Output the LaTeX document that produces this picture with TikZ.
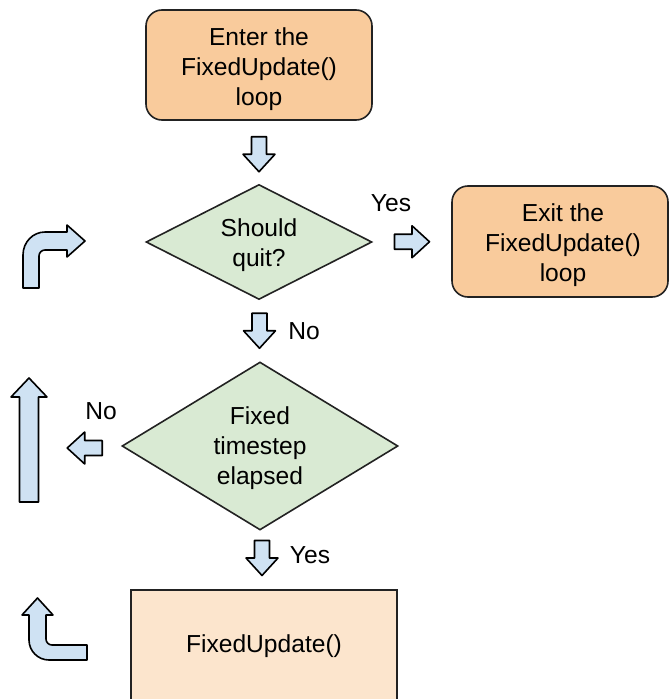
\documentclass[tikz,border=0pt]{standalone}
\usepackage{fontspec}
\setmainfont{Liberation Sans}
\usetikzlibrary{shapes.geometric,calc}
\definecolor{startfill}{HTML}{F9CB9C}
\definecolor{decfill}{HTML}{D9EAD3}
\definecolor{procfill}{HTML}{FCE5CD}
\definecolor{arrowfill}{HTML}{CFE2F3}
\definecolor{edge}{HTML}{222222}
\tikzset{
  blockarrow/.style={draw=black, line width=1.6pt, fill=arrowfill, line join=round},
  fatarrow/.pic={\path[blockarrow] (-17.5,-7.5) -- (0,-7.5) -- (0,-16) -- (17.5,0)
      -- (0,16) -- (0,7.5) -- (-17.5,7.5) -- cycle;},
}
\begin{document}
\begin{tikzpicture}[x=1pt,y=-1pt, font=\fontsize{24.6}{30}\selectfont,
  terminal/.style={draw=edge, line width=1.6pt, fill=startfill, rounded corners=16pt,
    inner sep=0pt},
  decision/.style={diamond, draw=edge, line width=1.6pt, fill=decfill, inner sep=0pt},
  process/.style={draw=edge, line width=1.6pt, fill=procfill, inner sep=0pt},
  lbl/.style={inner sep=0pt, align=center}
]
\useasboundingbox (0,0) rectangle (669,699);

% flowchart boxes
\node[terminal, minimum width=226pt, minimum height=110pt] (enter) at (259,65) {};
\node[decision, minimum width=226pt, minimum height=115pt] (quit) at (259,242) {};
\node[terminal, minimum width=216pt, minimum height=111pt] (exitb) at (560,241.5) {};
\node[decision, minimum width=276pt, minimum height=168pt] (tstep) at (260,446) {};
\node[process, minimum width=266pt, minimum height=114pt] (fupd) at (264,647) {};

% box texts
\node[lbl] (enter-t) at ($(enter)+(0,4)$) {Enter the\\FixedUpdate()\\loop};
\node[lbl] (quit-t) at ($(quit)+(0,3)$) {Should\\quit?};
\node[lbl] (exitb-t) at ($(exitb)+(3,4)$) {Exit the\\FixedUpdate()\\loop};
\node[lbl] (tstep-t) at ($(tstep)+(0,2)$) {Fixed\\timestep\\elapsed};
\node[lbl] (fupd-t) at ($(fupd)+(0,-1)$) {FixedUpdate()};

% straight block arrows between the boxes
\pic[rotate=-90] at ($(enter.south)!0.5!(quit.north)+(0,2)$) {fatarrow};
\pic at ($(quit.east)!0.5!(exitb.west)$) {fatarrow};
\pic[rotate=-90] at ($(quit.south)!0.5!(tstep.north)$) {fatarrow};
\pic[rotate=-90] at ($(tstep.south)!0.5!(fupd.north)-(0,2)$) {fatarrow};
\pic[rotate=180] at ($(tstep.west)+(-36.5,2)$) {fatarrow};

% labels
\node[lbl] (yes1) at (391,203) {Yes};
\node[lbl] (no1) at (304,331) {No};
\node[lbl] (no2) at (101,411) {No};
\node[lbl] (yes2) at (310,555) {Yes};

% loop-back arrows on the left
\path[blockarrow] (37.5,598) -- (53,615) -- (46,615) -- (46,639)
  .. controls (46,642.3) and (48.7,645) .. (52,645) -- (87,645) -- (87,660) -- (49,660)
  .. controls (38,660) and (29,651) .. (29,640) -- (29,615) -- (22,615) -- cycle;
\path[blockarrow] (29,378) -- (47,397) -- (38.5,397) -- (38.5,502) -- (19.5,502)
  -- (19.5,397) -- (11,397) -- cycle;
\path[blockarrow] (23,288) -- (23,255) .. controls (23,242) and (33,232) .. (45,232)
  -- (67,232) -- (67,225) -- (85,241) -- (67,257) -- (67,250) -- (45,250)
  .. controls (41.7,250) and (39,252.7) .. (39,256) -- (39,288) -- cycle;
\end{tikzpicture}
\end{document}
